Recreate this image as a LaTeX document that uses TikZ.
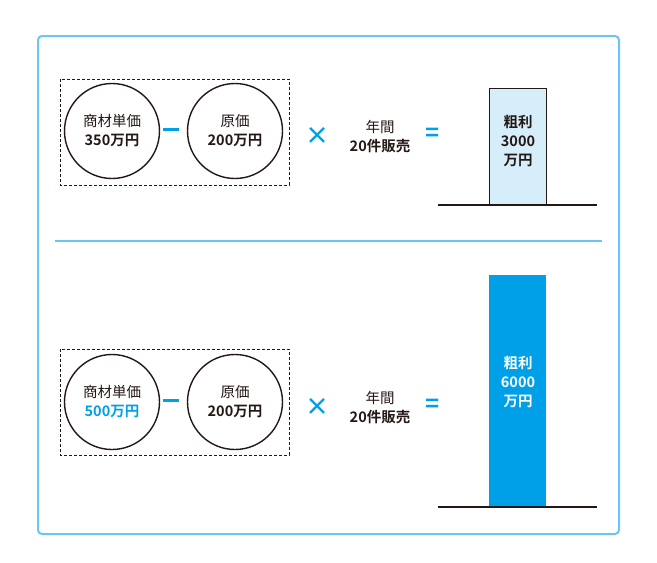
\documentclass[tikz,border=0pt]{standalone}
\usepackage{fontspec}
\setmainfont{Noto Sans CJK JP}[BoldFont={Noto Sans CJK JP Bold}]
\definecolor{cblue}{HTML}{00A0E9}
\definecolor{cframe}{HTML}{6CC5F0}
\definecolor{clight}{HTML}{D6EDFA}
\definecolor{ctext}{HTML}{231815}
\begin{document}
\begin{tikzpicture}[x=1pt,y=-1pt,
  circ/.style={circle,draw=ctext,line width=1.4pt,minimum size=95pt,inner sep=0pt,align=center,font=\fontsize{14.5}{19}\selectfont,text=ctext},
  dbox/.style={draw=ctext,dash pattern=on 3pt off 2pt,line width=0.9pt},
  op/.style={text=cblue,font=\bfseries\fontsize{24}{24}\selectfont},
  lbl/.style={align=center,font=\fontsize{14.5}{19}\selectfont,text=ctext},
  base/.style={draw=ctext,line width=1.6pt}]
\useasboundingbox (0,0) rectangle (657,563);
\fill[white] (0,0) rectangle (657,563);
\draw[cframe,line width=2pt,rounded corners=4pt] (38,36) rectangle (619,534);
\draw[cframe,line width=2pt] (55,241) -- (602,241);
% top
\draw[dbox] (60,79) rectangle (289,185);
\node[circ] (a1) at (112,131) {商材単価\\\textbf{350万円}};
\node[circ] (b1) at (235,131) {原価\\\textbf{200万円}};
\node[op] (m1) at (171,129) {\rule{16pt}{3pt}};
\node[op] (x1) at (317,136) {×};
\node[lbl] (t1) at (380,137) {年間\\\textbf{20件販売}};
\node[op] (e1) at (433,135) {=};
\draw[ctext,fill=clight,line width=1pt] (489,88) rectangle (546,205);
\node[lbl,font=\bfseries\fontsize{14.5}{19}\selectfont] (g1) at (518,141) {粗利\\3000\\万円};
\coordinate (l1) at (438,205); \coordinate (r1) at (597,205);
\draw[base] (l1) -- (r1);
% bottom
\draw[dbox] (60,349) rectangle (289,455);
\node[circ] (a2) at (112,402) {商材単価\\\textbf{\textcolor{cblue}{500万円}}};
\node[circ] (b2) at (235,402) {原価\\\textbf{200万円}};
\node[op] (m2) at (171,400) {\rule{16pt}{3pt}};
\node[op] (x2) at (317,407) {×};
\node[lbl] (t2) at (380,408) {年間\\\textbf{20件販売}};
\node[op] (e2) at (433,406) {=};
\fill[cblue] (489,275) rectangle (546,507);
\node[lbl,text=white,font=\bfseries\fontsize{14.5}{19}\selectfont] (g2) at (518,382) {粗利\\6000\\万円};
\coordinate (l2) at (438,507); \coordinate (r2) at (597,507);
\draw[base] (l2) -- (r2);
\end{tikzpicture}
\end{document}
